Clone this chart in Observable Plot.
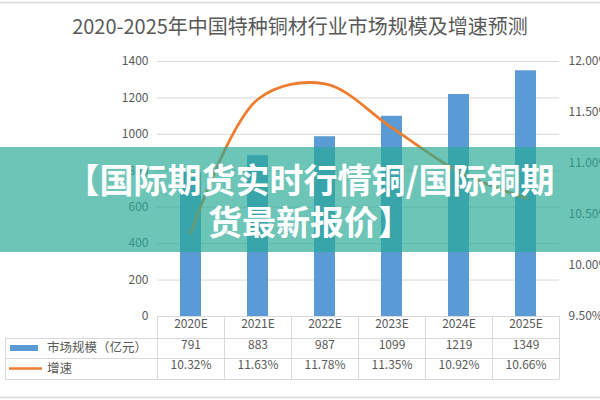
<!DOCTYPE html>
<html>
<head>
<meta charset="utf-8">
<script src="https://cdn.jsdelivr.net/npm/d3@7"></script>
<script src="https://cdn.jsdelivr.net/npm/@observablehq/plot@0.6"></script>
<style>
  html, body { margin: 0; padding: 0; background: #fff; overflow: hidden; }
  #wrap { position: relative; width: 600px; height: 400px; }
  #banner {
    position: absolute; left: 0; top: 147px; width: 600px; height: 105px;
    background: rgba(40, 170, 150, 0.68);
    display: flex; align-items: center; justify-content: center;
    box-sizing: border-box; padding-left: 20px;
    color: #fff; font-family: "Noto Sans CJK SC", sans-serif; font-weight: 700;
    font-size: 34px; line-height: 42px; text-align: center; white-space: nowrap;
  }
</style>
</head>
<body>
<div id="wrap"></div>
<script>
const years = ["2020E", "2021E", "2022E", "2023E", "2024E", "2025E"];
const marketSize = [791, 883, 987, 1099, 1219, 1349];
const growth = [10.32, 11.63, 11.78, 11.35, 10.92, 10.66];
const leftTicks = [0, 200, 400, 600, 800, 1000, 1200, 1400];
const rightTicks = [9.5, 10, 10.5, 11, 11.5, 12];
const seriesNames = ["市场规模（亿元）", "增速"];
const titleText = "2020-2025年中国特种铜材行业市场规模及增速预测";
const bannerLines = ["【国际期货实时行情铜/国际铜期", "货最新报价】"];

const FONT = '"Noto Sans CJK SC", "Noto Sans", sans-serif';
const BLUE = "#5B9BD5", ORANGE = "#ED7D31", GRID = "#D9D9D9", TXT = "#595959";

const gMin = rightTicks[0], gMax = rightTicks[rightTicks.length - 1];
const yMax = leftTicks[leftTicks.length - 1];
const g2y = g => (g - gMin) / (gMax - gMin) * yMax;
const y2g = v => v / yMax * (gMax - gMin) + gMin;

const data = years.map((year, i) => ({year, size: marketSize[i], growth: growth[i]}));

const plot = Plot.plot({
  width: 600, height: 400,
  marginTop: 61, marginBottom: 84, marginLeft: 157, marginRight: 41,
  style: {fontFamily: FONT, fontSize: "12px", color: TXT, background: "white", overflow: "visible"},
  x: {domain: years, paddingInner: 0.69, paddingOuter: 0.345, axis: null},
  y: {domain: [0, yMax], axis: null},
  marks: [
    Plot.gridY(leftTicks, {stroke: GRID, strokeOpacity: 1, strokeWidth: 1}),
    Plot.barY(data, {x: "year", y: "size", fill: BLUE}),
    Plot.line(data, {x: "year", y: d => g2y(d.growth), stroke: ORANGE, strokeWidth: 2.8, curve: "catmull-rom"}),
    Plot.axisY(leftTicks, {anchor: "left", label: null, tickSize: 0, tickPadding: 9, tickFormat: d => String(d), fill: TXT}),
    Plot.axisY(rightTicks.map(g2y), {anchor: "right", label: null, tickSize: 0, tickPadding: 9, tickFormat: v => y2g(v).toFixed(2) + "%", fill: TXT}),
    Plot.text(data, {x: "year", text: "year", frameAnchor: "bottom", dy: 11, fill: TXT}),
    Plot.text(data, {x: "year", text: d => String(d.size), frameAnchor: "bottom", dy: 32, fill: TXT}),
    Plot.text(data, {x: "year", text: d => d.growth.toFixed(2) + "%", frameAnchor: "bottom", dy: 52.5, fill: TXT})
  ]
});

const svg = d3.select(plot);
const xs = plot.scale("x"), ysc = plot.scale("y");
const x0 = xs.range[0], x1 = xs.range[1], step = xs.step;
const top0 = ysc.apply(0);
const rowH = [22, 20, 21];
const r1 = top0 + rowH[0], r2 = r1 + rowH[1], r3 = r2 + rowH[2];
const tableLeft = 5;

const g = svg.append("g").attr("stroke", GRID).attr("stroke-width", 1).attr("fill", "none");
g.append("line").attr("x1", tableLeft).attr("x2", x1).attr("y1", r1 + 0.5).attr("y2", r1 + 0.5);
g.append("line").attr("x1", tableLeft).attr("x2", x1).attr("y1", r2 + 0.5).attr("y2", r2 + 0.5);
g.append("line").attr("x1", tableLeft).attr("x2", x1).attr("y1", r3 + 0.5).attr("y2", r3 + 0.5);
for (let i = 0; i <= years.length; i++) {
  const xx = Math.round(x0 + i * step) + 0.5;
  g.append("line").attr("x1", xx).attr("x2", xx).attr("y1", top0).attr("y2", r3 + 0.5);
}
g.append("line").attr("x1", tableLeft + 0.5).attr("x2", tableLeft + 0.5).attr("y1", r1 + 0.5).attr("y2", r3 + 0.5);

svg.append("rect").attr("x", 10).attr("y", (r1 + r2) / 2 - 3).attr("width", 28).attr("height", 6).attr("fill", BLUE);
svg.append("line").attr("x1", 9).attr("x2", 42).attr("y1", (r2 + r3) / 2).attr("y2", (r2 + r3) / 2)
  .attr("stroke", ORANGE).attr("stroke-width", 2.5);
[[seriesNames[0], (r1 + r2) / 2], [seriesNames[1], (r2 + r3) / 2]].forEach(([t, yy]) => {
  svg.append("text").attr("x", 47).attr("y", yy).attr("dy", "0.35em").attr("text-anchor", "start")
    .attr("fill", TXT).attr("font-family", FONT).attr("font-size", 12.5).text(t);
});

svg.append("text").attr("x", 300).attr("y", 34).attr("text-anchor", "middle")
  .attr("fill", TXT).attr("font-family", FONT).attr("font-size", 20).text(titleText);

svg.append("line").attr("x1", 0).attr("x2", 600).attr("y1", 2.5).attr("y2", 2.5).attr("stroke", GRID).attr("stroke-width", 1.5);
svg.append("line").attr("x1", 0).attr("x2", 600).attr("y1", 397.5).attr("y2", 397.5).attr("stroke", GRID).attr("stroke-width", 1.5);

const wrap = document.getElementById("wrap");
wrap.appendChild(plot);
const banner = document.createElement("div");
banner.id = "banner";
banner.innerHTML = bannerLines.join("<br>");
wrap.appendChild(banner);
</script>
</body>
</html>
